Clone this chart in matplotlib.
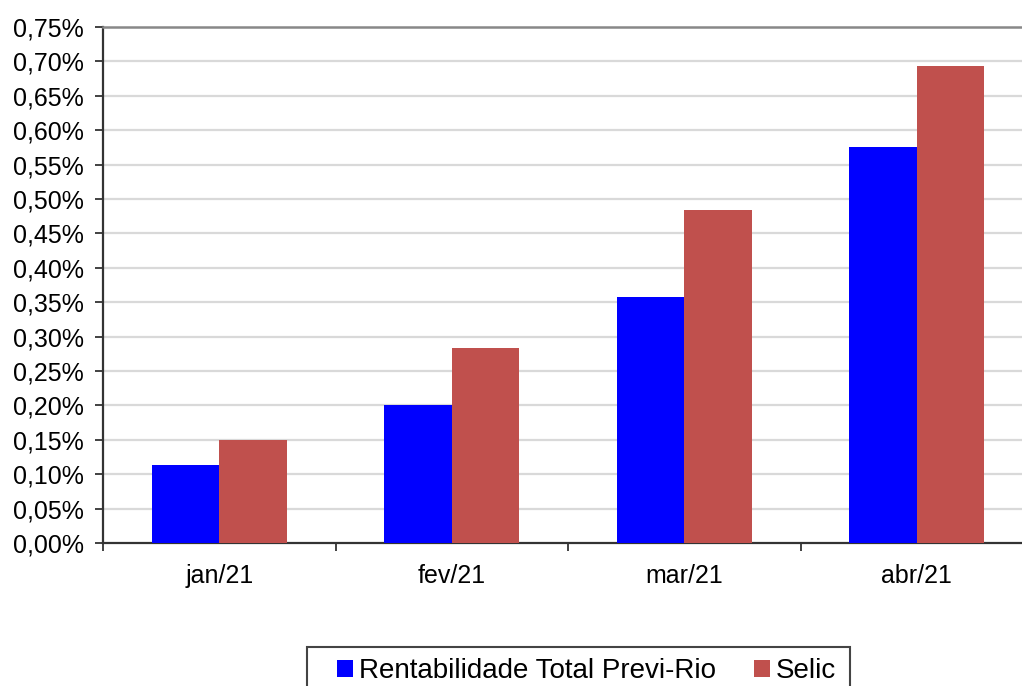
import numpy as np
import matplotlib
matplotlib.use("Agg")
import matplotlib.pyplot as plt
from matplotlib.patches import Rectangle
from matplotlib.ticker import FuncFormatter, FixedLocator

months = ["jan/21", "fev/21", "mar/21", "abr/21"]
previ_rio = [0.114, 0.201, 0.357, 0.575]
selic = [0.150, 0.284, 0.484, 0.694]
series_names = ["Rentabilidade Total Previ-Rio", "Selic"]

COLOR_PREVI = "#0000FF"
COLOR_SELIC = "#C0504D"
GRID = "#D9D9D9"
TICK_SIZE = 18
LEGEND_SIZE = 20

plt.rcParams["font.family"] = ["Liberation Sans", "DejaVu Sans"]

W, H = 1022, 686
fig = plt.figure(figsize=(W / 100, H / 100), dpi=100)
ax = fig.add_axes([103 / W, (H - 543) / H, 930 / W, 516 / H])

x = np.arange(len(months))
bw = 0.29
ax.bar(x - bw / 2, previ_rio, bw, color=COLOR_PREVI, label=series_names[0], zorder=3)
ax.bar(x + bw / 2, selic, bw, color=COLOR_SELIC, label=series_names[1], zorder=3)

ax.set_xlim(-0.5, len(months) - 0.5)
ax.set_ylim(0, 0.75)

yt = np.round(np.arange(0, 0.7501, 0.05), 2)
ax.set_yticks(yt)
ax.yaxis.set_major_formatter(FuncFormatter(lambda v, _: f"{v:.2f}%".replace(".", ",")))
for v in yt[1:-1]:
    ax.axhline(v, color=GRID, lw=1.6, zorder=1)

ax.set_xticks(x)
ax.set_xticklabels(months)
ax.xaxis.set_minor_locator(FixedLocator(np.arange(-0.5, len(months), 1.0)))
ax.tick_params(axis="x", which="major", length=0, pad=15, labelsize=TICK_SIZE)
ax.tick_params(axis="x", which="minor", length=6, width=1.3, color="#333333",
               direction="out")
ax.tick_params(axis="y", length=6, width=1.3, color="#333333", direction="out",
               labelsize=TICK_SIZE, pad=8)

for side in ("left", "bottom"):
    ax.spines[side].set_color("#333333")
    ax.spines[side].set_linewidth(1.6)
ax.spines["top"].set_color("#888888")
ax.spines["top"].set_linewidth(1.8)
ax.spines["right"].set_visible(False)

# legend box runs off the bottom edge in the original, so draw the frame by hand
fig.patches.append(Rectangle((307 / W, -0.05), (850 - 307) / W, 0.05 + (H - 647) / H,
                             transform=fig.transFigure, facecolor="white",
                             edgecolor="#444444", linewidth=1.5, zorder=0))
fig.legend(loc="upper left", bbox_to_anchor=(337 / W, 1 - 658 / H),
           ncol=2, fontsize=LEGEND_SIZE, frameon=False,
           handlelength=0.58, handleheight=0.58, handletextpad=0.22,
           columnspacing=1.35, borderpad=0.0, borderaxespad=0.0)

fig.savefig("out.png", dpi=100)
